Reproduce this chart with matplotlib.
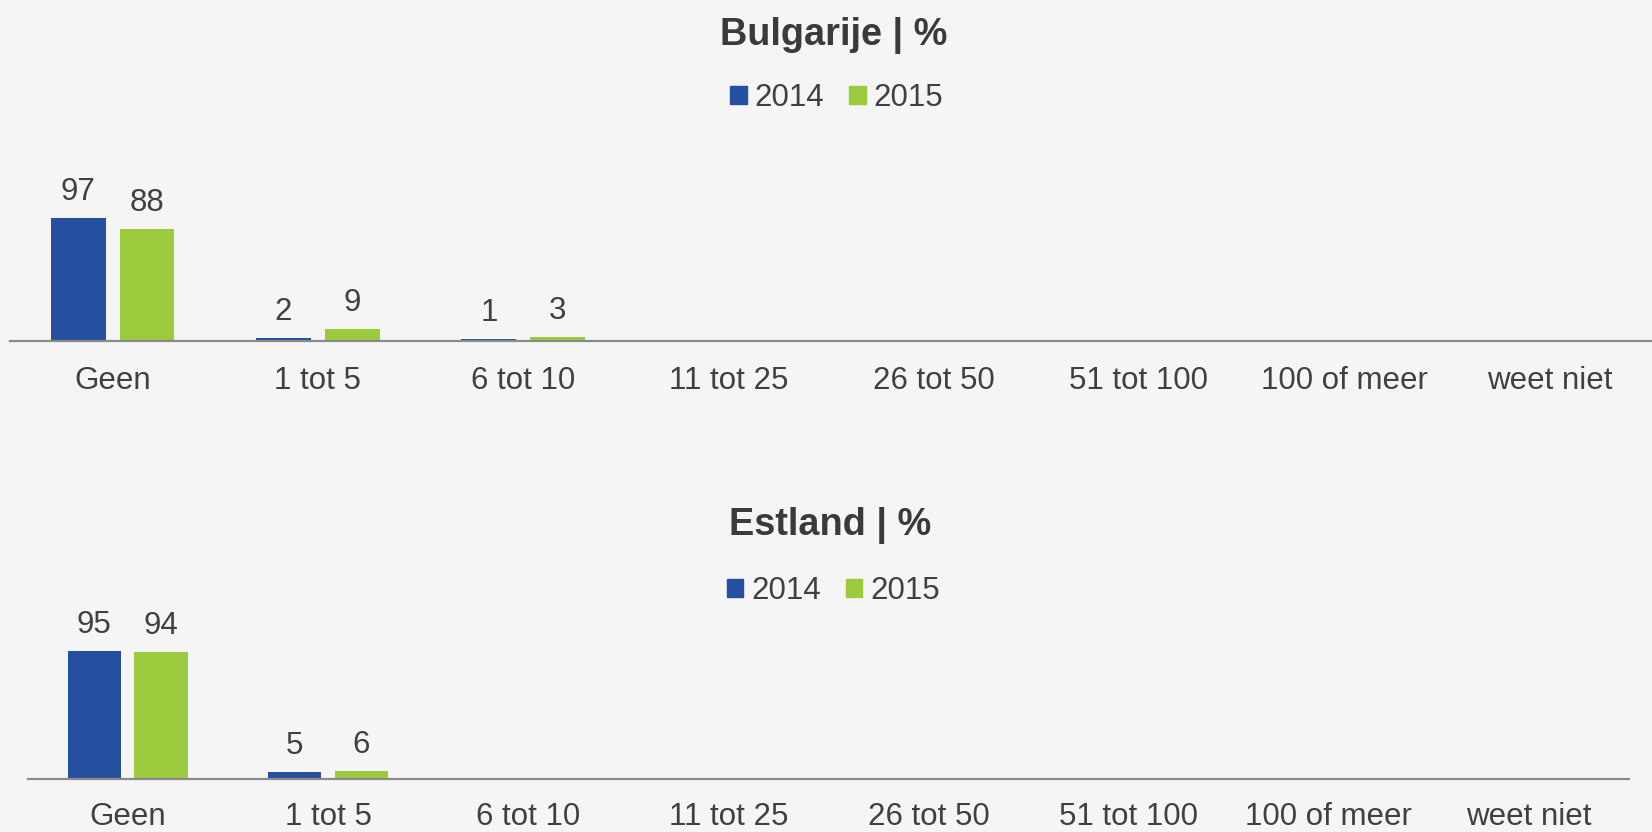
import numpy as np
import matplotlib
matplotlib.use("Agg")
import matplotlib.pyplot as plt
from matplotlib.patches import Patch

plt.rcParams['font.family'] = ['Liberation Sans', 'DejaVu Sans']

categories = ["Geen", "1 tot 5", "6 tot 10", "11 tot 25", "26 tot 50",
              "51 tot 100", "100 of meer", "weet niet"]
years = ["2014", "2015"]
bulgarije_2014 = [97, 2, 1, np.nan, np.nan, np.nan, np.nan, np.nan]
bulgarije_2015 = [88, 9, 3, np.nan, np.nan, np.nan, np.nan, np.nan]
estland_2014 = [95, 5, np.nan, np.nan, np.nan, np.nan, np.nan, np.nan]
estland_2015 = [94, 6, np.nan, np.nan, np.nan, np.nan, np.nan, np.nan]

BLUE = "#2550a0"
GREEN = "#9bca3c"
TEXT = "#404040"
BG = "#f5f5f5"
W, H = 1652, 832
FS = 22.5

fig = plt.figure(figsize=(W / 100, H / 100), dpi=100, facecolor=BG)


def draw(rect, title, s14, s15, title_xy, legend_xy, pad):
    ax = fig.add_axes(rect)
    ax.set_facecolor("none")
    x = np.arange(len(categories))
    bw = 0.267
    off = 0.167
    for vals, col, dx in ((s14, BLUE, -off), (s15, GREEN, off)):
        v = np.array(vals, dtype=float)
        ax.bar(x + dx, np.nan_to_num(v), width=bw, color=col, zorder=2)
        for xi, vi in zip(x, v):
            if not np.isnan(vi):
                ax.annotate(f"{vi:g}", xy=(xi + dx, vi), xytext=(0, 18),
                            textcoords="offset pixels", ha="center",
                            va="baseline", fontsize=FS, color=TEXT)
    ax.set_xlim(-0.5, len(categories) - 0.5)
    ax.set_ylim(0, 100)
    ax.set_xticks(x)
    ax.set_xticklabels(categories, fontsize=FS, color=TEXT)
    ax.tick_params(axis="x", length=0, pad=pad)
    ax.set_yticks([])
    for s in ("left", "right", "top"):
        ax.spines[s].set_visible(False)
    ax.spines["bottom"].set_color("#8a8a8a")
    ax.spines["bottom"].set_linewidth(1.6)
    fig.text(title_xy[0] / W, 1 - title_xy[1] / H, title, ha="center",
             va="baseline", fontsize=27.3, fontweight="bold", color="#3a3a3a")
    handles = [Patch(color=BLUE, label=years[0]), Patch(color=GREEN, label=years[1])]
    fig.legend(handles=handles, loc="center", ncol=2, frameon=False,
               bbox_to_anchor=(legend_xy[0] / W, 1 - legend_xy[1] / H),
               fontsize=FS, labelcolor=TEXT, handlelength=0.53,
               handleheight=0.5, handletextpad=0.25, columnspacing=0.8,
               borderpad=0, borderaxespad=0)
    return ax


draw([10 / W, (H - 340.7) / H, (W - 10) / W, 126.7 / H],
     "Bulgarije | %", bulgarije_2014, bulgarije_2015,
     (833.7, 45), (836.7, 98), 18)
draw([27.7 / W, (H - 779) / H, (1629 - 27.7) / W, 134.7 / H],
     "Estland | %", estland_2014, estland_2015,
     (829.7, 535), (833.3, 591.4), 16.5)

fig.savefig("out.png", dpi=100, facecolor=BG)
